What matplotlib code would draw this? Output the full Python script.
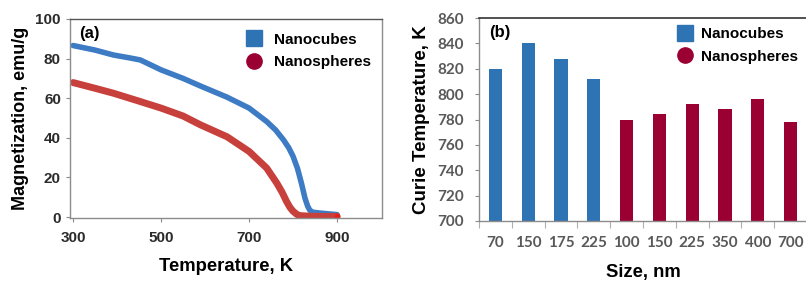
import matplotlib
matplotlib.use("Agg")
import matplotlib.pyplot as plt
from matplotlib.lines import Line2D
import numpy as np

# ---- data: panel (a) ----
cubes_T = [300, 350, 392, 430, 453, 500, 550, 589, 650, 700, 740, 760, 778, 790, 800, 810, 819, 827, 833, 838, 845, 861, 880, 900]
cubes_M = [86.6, 84.3, 81.8, 80.3, 79.3, 74.3, 70.0, 66.2, 60.5, 55.0, 48.2, 44.0, 39.0, 35.0, 30.6, 24.5, 17.0, 9.5, 5.5, 3.4, 2.4, 2.0, 1.6, 1.2]
spheres_T = [300, 350, 392, 450, 500, 550, 589, 650, 700, 740, 763, 775, 785, 793, 800, 808, 815, 840, 870, 900]
spheres_M = [67.9, 65.0, 62.5, 58.5, 55.0, 51.0, 46.6, 40.5, 33.1, 24.7, 17.1, 12.5, 7.9, 4.8, 2.9, 1.4, 0.7, 0.4, 0.3, 0.3]

# ---- data: panel (b) ----
size_labels = ["70", "150", "175", "225", "100", "150", "225", "350", "400", "700"]
curie_T = [820, 840, 828, 812, 780, 784, 792, 788, 796, 778]
groups = ["cube", "cube", "cube", "cube", "sphere", "sphere", "sphere", "sphere", "sphere", "sphere"]

BLUE_LINE = "#3d7cc4"
RED_LINE = "#c8403c"
BLUE_BAR = "#2e74b5"
CRIMSON = "#9b0033"
GREY = "#8c8c8c"

fig = plt.figure(figsize=(8.06, 2.81), dpi=100)

# ---------- panel (a) ----------
ax1 = fig.add_axes([70/806, 1-218/281, 312/806, 199/281])
ax1.plot(cubes_T, cubes_M, color=BLUE_LINE, lw=4, solid_capstyle="round", solid_joinstyle="round")
ax1.plot(spheres_T, spheres_M, color=RED_LINE, lw=5, solid_capstyle="round", solid_joinstyle="round")
ax1.plot([900], [0.3], "o", color="#e8201c", ms=3)
ax1.set_xlim(293, 1002)
ax1.set_ylim(-0.5, 100)
ax1.set_xticks([300, 500, 700, 900])
ax1.set_yticks([0, 20, 40, 60, 80, 100])
for sp in ax1.spines.values():
    sp.set_color(GREY)
    sp.set_linewidth(1.0)
ax1.spines["top"].set_color("#555555")
ax1.tick_params(axis="both", direction="out", length=3, width=0.8, color=GREY,
                labelsize=11, labelcolor="#2b2b2b")
ax1.tick_params(axis="x", pad=6)
for lab in ax1.get_xticklabels() + ax1.get_yticklabels():
    lab.set_fontfamily("Liberation Sans")
    lab.set_fontweight("bold")
ax1.set_xlabel("Temperature, K", fontsize=13.3, fontweight="bold", family="Liberation Sans", labelpad=10)
ax1.set_ylabel("Magnetization, emu/g", fontsize=13, fontweight="bold", family="Liberation Sans", labelpad=5)
ax1.text(0.03, 0.965, "(a)", transform=ax1.transAxes, ha="left", va="top",
         fontsize=12, fontweight="bold", family="Liberation Sans")
h1 = [Line2D([], [], ls="none", marker="s", ms=11, color=BLUE_BAR, mec=BLUE_BAR),
      Line2D([], [], ls="none", marker="o", ms=11, color=CRIMSON, mec=CRIMSON)]
ax1.legend(h1, ["Nanocubes", "Nanospheres"], loc="upper right", frameon=False,
           prop={"family": "Liberation Sans", "weight": "bold", "size": 11},
           handletextpad=0.3, labelspacing=0.55, borderaxespad=0.3, bbox_to_anchor=(1.0, 0.985))

# ---------- panel (b) ----------
ax2 = fig.add_axes([479/806, 1-221/281, 328/806, 203/281])
x = np.arange(len(curie_T))
colors = [BLUE_BAR if g == "cube" else CRIMSON for g in groups]
ax2.bar(x, np.array(curie_T) - 700, bottom=700, width=0.4, color=colors)
ax2.set_xlim(-0.5, len(curie_T) - 0.5)
ax2.set_ylim(700, 860)
ax2.set_yticks(np.arange(700, 861, 20))
ax2.set_xticks(x)
ax2.set_xticklabels(size_labels)
ax2.set_xticks(np.arange(-0.5, len(curie_T), 1.0), minor=True)
ax2.tick_params(axis="x", which="major", length=0, pad=11, labelsize=11, labelcolor="#595959")
ax2.tick_params(axis="x", which="minor", length=5, width=0.8, color="#b0b0b0")
ax2.tick_params(axis="y", length=3, width=0.8, color=GREY, labelsize=11, labelcolor="#595959", pad=8)
for lab in ax2.get_xticklabels() + ax2.get_yticklabels():
    lab.set_fontfamily("Lato")
    lab.set_fontweight("bold")
for sp in ["left", "bottom"]:
    ax2.spines[sp].set_color(GREY)
    ax2.spines[sp].set_linewidth(1.0)
ax2.spines["top"].set_color("#333333")
ax2.spines["top"].set_linewidth(1.2)
ax2.spines["right"].set_visible(False)
ax2.set_xlabel("Size, nm", fontsize=13.3, fontweight="bold", family="Liberation Sans", labelpad=10)
ax2.set_ylabel("Curie Temperature, K", fontsize=13.5, fontweight="bold", family="Liberation Sans", labelpad=5)
ax2.text(0.03, 0.965, "(b)", transform=ax2.transAxes, ha="left", va="top",
         fontsize=12, fontweight="bold", family="Liberation Sans")
h2 = [Line2D([], [], ls="none", marker="s", ms=11, color=BLUE_BAR, mec=BLUE_BAR),
      Line2D([], [], ls="none", marker="o", ms=11, color=CRIMSON, mec=CRIMSON)]
ax2.legend(h2, ["Nanocubes", "Nanospheres"], loc="upper left", frameon=False,
           prop={"family": "Liberation Sans", "weight": "bold", "size": 11},
           handlelength=1.0, handletextpad=0.6, labelspacing=0.55, borderaxespad=0.0,
           bbox_to_anchor=(0.585, 0.985))

fig.savefig("out.png", dpi=100)
